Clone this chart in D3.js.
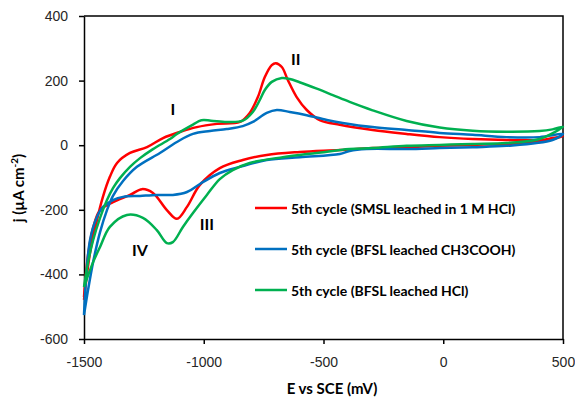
<!DOCTYPE html>
<html>
<head>
<meta charset="utf-8">
<script src="https://cdn.jsdelivr.net/npm/d3@7"></script>
<style>
  body { margin: 0; background: #fff; }
  svg { display: block; font-family: Lato, "Open Sans", sans-serif; }
</style>
</head>
<body>
<div id="viz"></div>
<script>
const WIDTH = 575;
const HEIGHT = 404;
const PLOT = { left: 84, right: 563, top: 16, bottom: 339 };

// axis ticks
const xTicks = [-1500, -1000, -500, 0, 500];
const yTicks = [-600, -400, -200, 0, 200, 400];

const seriesNames = [
  '5th cycle (SMSL leached in 1 M HCl)',
  '5th cycle (BFSL leached CH3COOH)',
  '5th cycle (BFSL leached HCl)'
];
const seriesColors = ['#ff0000', '#0070c0', '#00b050'];

// potential (mV) / current density (uA cm-2), forward scan then reverse scan
const smslHclE = [-1500, -1475, -1446, -1421, -1392, -1362, -1308, -1237, -1170, -1100,
  -1029, -945, -849, -808, -774, -745, -716, -699, -674, -649,
  -612, -570, -516, -432, -295, -153, -15, 123, 264, 402, 456, 500,
  402, 264, 123, -15, -153, -295, -432, -599, -737, -837,
  -933, -1016, -1070, -1112, -1154, -1212, -1258, -1308, -1379, -1433,
  -1462, -1483, -1500];
const smslHclJ = [-479, -334, -232, -160, -98, -55, -24, -6, 22, 41,
  56, 66, 72, 100, 149, 211, 248, 254, 242, 202,
  149, 109, 78, 63, 47, 35, 25, 19, 16, 16, 22, 28,
  10, 4, 1, -2, -6, -9, -15, -21, -30, -46,
  -71, -123, -191, -228, -201, -148, -136, -154, -176, -201,
  -256, -340, -470];

const bfslAceticE = [-1500, -1483, -1462, -1433, -1404, -1379, -1337, -1279, -1183, -1112,
  -1045, -974, -904, -837, -795, -737, -695, -641, -570, -486,
  -420, -295, -153, -15, 123, 264, 402, 500,
  456, 264, 123, -15, -153, -320, -391, -432, -599, -737,
  -849, -933, -1016, -1070, -1129, -1196, -1266, -1337, -1379, -1421,
  -1446, -1475, -1500];
const bfslAceticJ = [-526, -448, -362, -269, -201, -157, -111, -67, -24, 10,
  35, 44, 50, 59, 72, 100, 109, 103, 93, 78,
  69, 56, 47, 38, 32, 25, 25, 35,
  16, -2, -6, -9, -12, -12, -18, -27, -37, -46,
  -67, -86, -120, -145, -154, -154, -157, -160, -170, -191,
  -222, -294, -526];

const bfslHclE = [-1500, -1483, -1462, -1433, -1404, -1379, -1350, -1308, -1266, -1212,
  -1141, -1112, -1045, -1010, -970, -904, -837, -795, -766, -745,
  -716, -674, -641, -600, -528, -461, -391, -295, -153, -15,
  123, 264, 402, 456, 500,
  402, 264, 123, -15, -153, -295, -391, -528, -670, -808,
  -879, -933, -987, -1045, -1087, -1129, -1154, -1196, -1254, -1321,
  -1392, -1433, -1462, -1500];
const bfslHclJ = [-439, -362, -294, -225, -170, -133, -102, -67, -40, -12,
  19, 35, 64, 77, 76, 72, 76, 103, 140, 171,
  196, 208, 205, 195, 175, 155, 134, 108, 75, 55,
  45, 42, 44, 49, 57,
  19, 7, 4, 1, -2, -9, -12, -24, -37, -55,
  -77, -105, -154, -210, -253, -300, -303, -263, -225, -216,
  -253, -315, -362, -439];

// peak labels
const peakNames = ['I', 'II', 'III', 'IV'];
const peakE = [-1129, -616, -987, -1266];
const peakJ = [115, 267, -241, -324];

const series = [
  { name: seriesNames[0], color: seriesColors[0], e: smslHclE, j: smslHclJ },
  { name: seriesNames[1], color: seriesColors[1], e: bfslAceticE, j: bfslAceticJ },
  { name: seriesNames[2], color: seriesColors[2], e: bfslHclE, j: bfslHclJ }
].map(s => ({ ...s, points: s.e.map((e, i) => ({ e, j: s.j[i] })) }));

const x = d3.scaleLinear().domain([-1500, 500]).range([PLOT.left, PLOT.right]);
const y = d3.scaleLinear().domain([-600, 400]).range([PLOT.bottom, PLOT.top]);

const svg = d3.select('#viz').append('svg')
  .attr('width', WIDTH)
  .attr('height', HEIGHT);

// frame (top and right)
svg.append('path')
  .attr('d', `M${PLOT.left},${PLOT.top}H${PLOT.right}V${PLOT.bottom}`)
  .attr('fill', 'none')
  .attr('stroke', '#000')
  .attr('stroke-width', 1.5);

// Make axes
const xAxis = svg.append('g')
  .attr('transform', `translate(0,${PLOT.bottom})`)
  .call(d3.axisBottom(x).tickValues(xTicks).tickFormat(d => String(d))
    .tickSize(5).tickSizeOuter(0).tickPadding(13));
const yAxis = svg.append('g')
  .attr('transform', `translate(${PLOT.left},0)`)
  .call(d3.axisLeft(y).tickValues(yTicks).tickFormat(d => String(d))
    .tickSize(5).tickSizeOuter(0).tickPadding(11));

[xAxis, yAxis].forEach(g => {
  g.select('.domain').attr('stroke', '#000').attr('stroke-width', 1.5);
  g.selectAll('.tick line').attr('stroke', '#000').attr('stroke-width', 1.5);
  g.selectAll('.tick text')
    .attr('fill', '#262626')
    .style('font-size', '14px');
});

// Make lines
const line = d3.line()
  .x(d => x(d.e))
  .y(d => y(d.j))
  .curve(d3.curveCatmullRom.alpha(0.5));

svg.append('g')
  .selectAll('path')
  .data(series)
  .join('path')
  .attr('d', d => line(d.points))
  .attr('fill', 'none')
  .attr('stroke', d => d.color)
  .attr('stroke-width', 2.5)
  .attr('stroke-linejoin', 'round');

// peak labels
svg.append('g')
  .selectAll('text')
  .data(peakNames)
  .join('text')
  .attr('x', (d, i) => x(peakE[i]))
  .attr('y', (d, i) => y(peakJ[i]))
  .attr('text-anchor', 'middle')
  .attr('dominant-baseline', 'central')
  .style('font-size', '16px')
  .style('font-weight', 'bold')
  .attr('fill', '#000')
  .text(d => d);

// legend
const legend = svg.append('g')
  .selectAll('g')
  .data(series)
  .join('g')
  .attr('transform', (d, i) => `translate(255,${208 + i * 41})`);
legend.append('line')
  .attr('x1', 0).attr('x2', 32)
  .attr('stroke', d => d.color)
  .attr('stroke-width', 2.5);
legend.append('text')
  .attr('x', 36)
  .attr('dominant-baseline', 'central')
  .style('font-size', '14px')
  .style('font-weight', 'bold')
  .attr('fill', '#000')
  .text(d => d.name);

// axis titles
svg.append('text')
  .attr('x', 332)
  .attr('y', 388)
  .attr('text-anchor', 'middle')
  .attr('dominant-baseline', 'central')
  .style('font-size', '15px')
  .style('font-weight', 'bold')
  .text('E vs SCE (mV)');

const yTitle = svg.append('text')
  .attr('transform', 'translate(24,188) rotate(-90)')
  .attr('text-anchor', 'middle')
  .style('font-size', '15px')
  .style('font-weight', 'bold');
yTitle.append('tspan').text('j (µA cm');
yTitle.append('tspan').attr('dy', -6).style('font-size', '10px').text('-2');
yTitle.append('tspan').attr('dy', 6).text(')');
</script>
</body>
</html>
